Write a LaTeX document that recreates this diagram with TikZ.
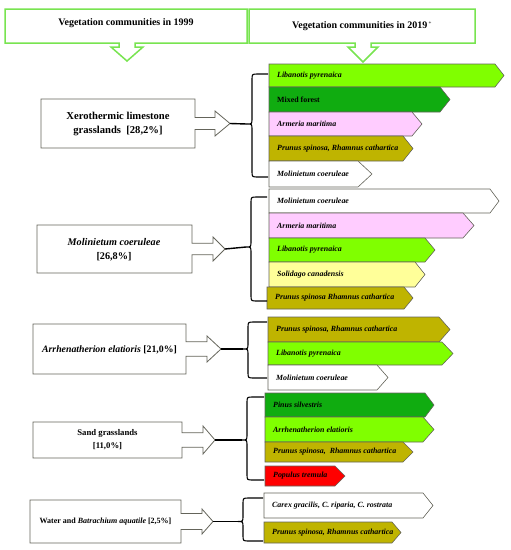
\documentclass[tikz,border=0pt]{standalone}
\usepackage{fontspec}
\setmainfont{Liberation Serif}
\definecolor{hdr}{RGB}{120,228,80}
\definecolor{lgreen}{RGB}{128,255,0}
\definecolor{dgreen}{RGB}{16,172,16}
\definecolor{pinkc}{RGB}{255,204,255}
\definecolor{olivec}{RGB}{191,180,0}
\definecolor{lyellow}{RGB}{255,255,153}
\definecolor{redc}{RGB}{255,0,0}
\definecolor{edgec}{RGB}{100,100,90}
\newcommand{\VBar}[8]{%
  \draw[barline, fill=#7] (#2,#3) -- (#5,#3) -- (#6,{(#3+#4)/2}) -- (#5,#4) -- (#2,#4) -- cycle;
  \node[bartext] (#1) at ({#2+8},{(#3+#4)/2}) {#8};
}
\newcommand{\LBox}[9]{%
  \draw[boxline] (#2,#3) -- (#4,#3) -- (#4,{(#3+#5)/2-#6}) -- (#8,{(#3+#5)/2-#6})
    -- (#8,{(#3+#5)/2-#7}) -- (#9,{(#3+#5)/2}) -- (#8,{(#3+#5)/2+#7})
    -- (#8,{(#3+#5)/2+#6}) -- (#4,{(#3+#5)/2+#6}) -- (#4,#5) -- (#2,#5) -- cycle;
  \coordinate (#1) at (#9,{(#3+#5)/2});
}
\newcommand{\CBrace}[6]{%
  \draw[bracel] (#6,#3) -- ({#2+6},#3) .. controls (#2,#3) .. (#2,{#3+6})
    -- (#2,{#5-6}) .. controls (#2,#5) .. ({#2-5},#5)
    .. controls (#2,#5) .. (#2,{#5+6}) -- (#2,{#4-6})
    .. controls (#2,#4) .. ({#2+6},#4) -- (#6,#4);
  \coordinate (#1) at ({#2-5},#5);
}
\begin{document}
\begin{tikzpicture}[x=1pt,y=-1pt,
  barline/.style={draw=edgec, line width=0.6pt},
  boxline/.style={draw=edgec, line width=0.8pt, fill=white},
  hdrline/.style={draw=hdr, line width=1.5pt, fill=white},
  bracel/.style={draw=black, line width=1.1pt},
  conn/.style={draw=black, line width=1.4pt},
  bartext/.style={anchor=west, inner sep=0pt, font=\fontsize{7.9}{9}\selectfont\bfseries\itshape},
  boxtext/.style={align=center, inner sep=0pt, font=\bfseries},
  hdrtext/.style={inner sep=0pt, font=\fontsize{10}{12}\selectfont\bfseries}]
\useasboundingbox (0,0) rectangle (511,550);
% headers
\draw[hdrline] (5,9) -- (247,9) -- (247,43) -- (135,43) -- (135,47) -- (143,47) -- (127,61)
  -- (111,47) -- (119,47) -- (119,43) -- (5,43) -- cycle;
\node[hdrtext] (h1) at (126,23) {Vegetation communities in 1999};
\draw[hdrline] (249,9) -- (475,9) -- (475,43) -- (371,43) -- (371,47) -- (378,47) -- (363,62)
  -- (348,47) -- (355,47) -- (355,43) -- (249,43) -- cycle;
\node[hdrtext] (h2) at (362,26) {Vegetation communities in 2019\textsuperscript{\,\tiny+}};
% group 1
\VBar{a1}{269}{64}{87}{495}{504}{lgreen}{Libanotis pyrenaica}
\VBar{a2}{269}{87}{112}{440}{450}{dgreen}{\upshape Mixed forest}
\VBar{a3}{269}{112}{136}{412}{422}{pinkc}{Armeria maritima}
\VBar{a4}{269}{136}{161}{403}{413}{olivec}{Prunus spinosa, Rhamnus cathartica}
\VBar{a5}{269}{161}{187}{358}{372}{white}{Molinietum coeruleae}
\LBox{t1}{41}{99}{195}{148}{6}{12.5}{215}{230}
\node[boxtext, font=\fontsize{10.6}{13.5}\selectfont\bfseries] (x1) at (118,124) {Xerothermic limestone\\grasslands\ \ [28,2\%]};
\CBrace{b1}{252}{74}{177}{124}{268}
\draw[conn] (t1) -- (b1);
% group 2
\VBar{c1}{269}{189}{213}{490}{499}{white}{Molinietum coeruleae}
\VBar{c2}{269}{213}{238}{463}{474}{pinkc}{Armeria maritima}
\VBar{c3}{269}{238}{262}{425}{435}{lgreen}{Libanotis pyrenaica}
\VBar{c4}{269}{262}{287}{415}{425}{lyellow}{Solidago canadensis}
\VBar{c5}{267}{287}{309}{404}{413}{olivec}{Prunus spinosa Rhamnus cathartica}
\LBox{t2}{37}{225}{192}{273}{5.8}{12}{213}{225}
\node[boxtext, font=\fontsize{10.2}{14}\selectfont\bfseries] (x2) at (114,250) {\textit{Molinietum coeruleae}\\{}[26,8\%]};
\CBrace{b2}{251}{197}{301}{247}{267}
\draw[conn] (t2) -- (b2);
% group 3
\VBar{d1}{268}{317}{342}{439}{450}{olivec}{Prunus spinosa, Rhamnus cathartica}
\VBar{d2}{268}{342}{365}{442}{453}{lgreen}{Libanotis pyrenaica}
\VBar{d3}{268}{365}{390}{377}{388}{white}{Molinietum coeruleae}
\LBox{t3}{33}{324}{186}{374}{7.2}{13}{207}{221}
\node[boxtext, font=\fontsize{9.8}{11}\selectfont\bfseries] (x3) at (109.5,350) {\textit{Arrhenatherion elatioris} [21,0\%]};
\CBrace{b3}{248}{322}{378}{349}{267}
\draw[conn] (t3) -- (b3);
% group 4
\VBar{e1}{265}{393}{417}{425}{434}{dgreen}{Pinus silvestris}
\VBar{e2}{265}{417}{442}{423}{434}{lgreen}{Arrhenatherion elatioris}
\VBar{e3}{265}{442}{462}{403}{413}{olivec}{Prunus spinosa,\ \ Rhamnus cathartica}
\VBar{e4}{265}{466}{486}{335}{345}{redc}{Populus tremula}
\LBox{t4}{33}{422}{182}{458}{7.2}{14}{203}{215}
\node[boxtext, font=\fontsize{8.7}{13}\selectfont\bfseries] (x4) at (107.5,440) {Sand grasslands\\{}[11,0\%]};
\CBrace{b4}{247}{397}{480}{440}{264}
\draw[conn] (t4) -- (b4);
% group 5
\VBar{f1}{264}{493}{518}{423}{433}{white}{Carex gracilis, C. riparia, C. rostrata}
\VBar{f2}{264}{522}{543}{392}{401}{olivec}{Prunus spinosa, Rhamnus cathartica}
\LBox{t5}{30}{500}{181}{543}{8}{12.5}{202}{213}
\node[boxtext, font=\fontsize{8}{9}\selectfont\bfseries] (x5) at (105.5,522) {Water and \textit{Batrachium aquatile} [2,5\%]};
\CBrace{b5}{243}{498}{541}{521.5}{263}
\draw[conn] (t5) -- (b5);
\end{tikzpicture}
\end{document}
